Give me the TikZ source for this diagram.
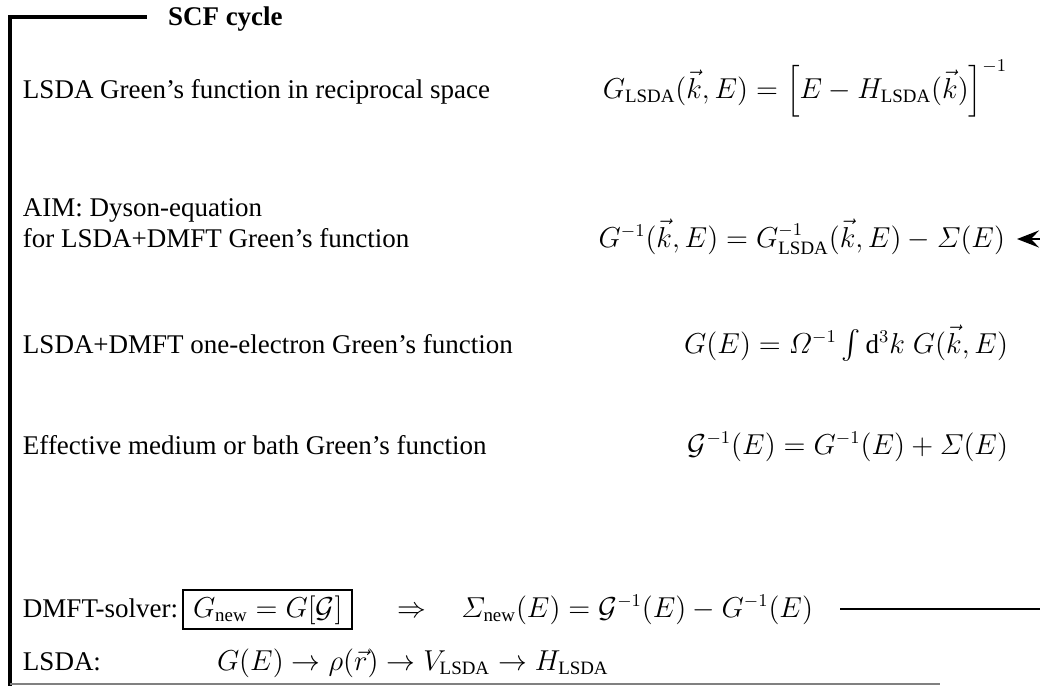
\documentclass[tikz,border=0pt]{standalone}
\usepackage{amsmath}
\usepackage{fontspec}
\setmainfont{Liberation Serif}
\usetikzlibrary{arrows.meta}
\begin{document}
\begin{tikzpicture}[x=0.5pt,y=-0.5pt,
  every node/.style={inner sep=0pt,outer sep=0pt,anchor=base west,font=\fontsize{13.5}{16}\selectfont},
  rt/.style={anchor=base east},
  frame/.style={line width=1.7pt,black},
  conn/.style={line width=1.35pt,black},
  baseline rule/.style={line width=0.6pt,black!50}]
\useasboundingbox (0,0) rectangle (1040,686);
% frame
\coordinate (tl) at (10,17);
\coordinate (bl) at (10,690);
\coordinate (tr) at (147,17);
\draw[frame] (bl) -- (tl) -- (tr);
\node[font=\fontsize{13.5}{16}\selectfont\bfseries] (scf) at (168,25) {SCF cycle};
% rows
\node (t1) at (23,98) {LSDA Green's function in reciprocal space};
\node[rt] (f1) at (1007,98) {$G_{\mathrm{LSDA}}(\vec{k},E) = \Bigl[E - H_{\mathrm{LSDA}}(\vec{k})\Bigr]^{-1}$};
\node (t2a) at (23,216) {AIM: Dyson-equation};
\node (t2b) at (23,247) {for LSDA+DMFT Green's function};
\node[rt] (f2) at (1005,247) {$G^{-1}(\vec{k},E) = G^{-1}_{\mathrm{LSDA}}(\vec{k},E) - \varSigma(E)$};
\node (t3) at (23,353) {LSDA+DMFT one-electron Green's function};
\node[rt] (f3) at (1008,353) {$G(E) = \varOmega^{-1}\int \mathrm{d}^3k\; G(\vec{k},E)$};
\node (t4) at (23,454) {Effective medium or bath Green's function};
\node[rt] (f4) at (1008,454) {$\mathcal{G}^{-1}(E) = G^{-1}(E) + \varSigma(E)$};
\node (t5) at (23,617) {DMFT-solver:};
\node[draw,line width=1pt,inner xsep=5pt,inner ysep=2.5pt] (box) at (183,617) {$G_{\mathrm{new}} = G[\mathcal{G}]$\hspace{5pt}};
\node (impl) at (397,617) {$\Rightarrow$};
\node[rt] (f5) at (813,617) {$\varSigma_{\mathrm{new}}(E) = \mathcal{G}^{-1}(E) - G^{-1}(E)$};
\node (t6) at (23,670) {LSDA:};
\node (f6) at (217,670) {$G(E) \to \rho(\vec{r}) \to V_{\mathrm{LSDA}} \to H_{\mathrm{LSDA}}$};
% bottom rule
\coordinate (bbl) at (10,684);
\coordinate (bbr) at (940,684);
\draw[baseline rule] (bbl) -- (bbr);
% feedback connector
\coordinate (rx) at (1060,0);
\coordinate (s5) at ([xshift=13.5pt,yshift=4pt]f5.base east);
\coordinate (d2) at ([xshift=6pt,yshift=4pt]f2.base east);
\draw[conn,-{Stealth[length=11pt,width=8.5pt,inset=4pt]}] (s5) -- (s5 -| rx) |- (d2);
\end{tikzpicture}
\end{document}
